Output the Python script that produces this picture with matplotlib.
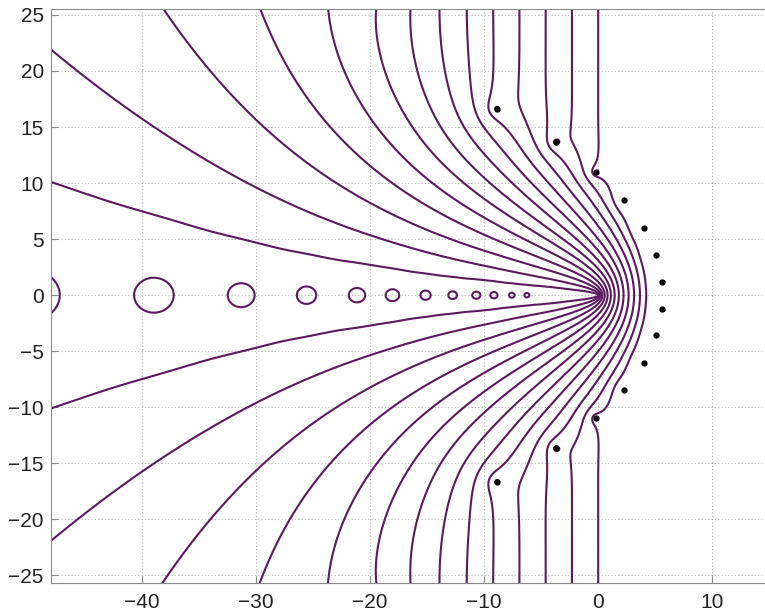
import numpy as np
import matplotlib.pyplot as plt

# type (14,14) rational Chebyshev approximation of exp on (-inf, 0]
# r(z) = alpha0 + sum over conjugate pairs of alpha_k / (-z - theta_k)
alpha0 = '0.183216998528140087e-13'
alpha_re = ['0.557503973136501826e+02', '-0.938666838877006739e+02', '0.469965415550370835e+02',
            '-0.961424200626061065e+01', '0.752722063978321642e+00', '-0.188781253158648576e-01',
            '0.143086431411801849e-03']
alpha_im = ['-0.204295038779771857e+03', '0.912874896775456363e+02', '-0.116167609985818103e+02',
            '-0.264195613880262669e+01', '0.670367365566377770e+00', '-0.343696176445802414e-01',
            '0.287221133228814096e-03']
theta_re = ['-0.562314417475317895e+01', '-0.508934679728216110e+01', '-0.399337136365302569e+01',
            '-0.226978543095856366e+01', '0.208756929753827868e+00', '0.370327340957595652e+01',
            '0.889777151877331107e+01']
theta_im = ['0.119406921611247440e+01', '0.358882439228376881e+01', '0.600483209099604664e+01',
            '0.846173881758693369e+01', '0.109912615662209418e+02', '0.136563731924991884e+02',
            '0.166309842834712071e+02']
levels = np.arange(-13, 1)   # log10 of |exp(z) - r(z)|
loop_level = -14             # small loops around the zeros on the negative axis
loop_xmax = -5.7             # the loops right of this are too small to show

ld = np.longdouble
a0 = ld(alpha0)
alpha = np.array([ld(a) for a in alpha_re]) + 1j * np.array([ld(b) for b in alpha_im])
theta = np.array([ld(a) for a in theta_re]) + 1j * np.array([ld(b) for b in theta_im])


def r(z, c0, al):
    out = np.full(z.shape, c0, dtype=np.clongdouble)
    for a, t in zip(al, theta):
        out += 0.5 * (a / (-z - t) + np.conj(a) / (-z - np.conj(t)))
    return out


# polish the residues on the negative real axis (Lawson iteration, poles fixed)
xr = np.concatenate([-np.logspace(-4, 4, 6000)[::-1], [0.0]]).astype(np.longdouble)
zr = xr.astype(np.clongdouble)
cols = [np.ones(len(xr))]
for t in theta:
    u = (1.0 / (-zr - t)).astype(complex)
    cols += [u.real, -u.imag]
A = np.column_stack(cols)
res = (np.exp(zr) - r(zr, a0, alpha)).real.astype(float)
w = np.ones(len(xr)) / len(xr)
for _ in range(40):
    sw = np.sqrt(w)
    sol = np.linalg.lstsq(A * sw[:, None], res * sw, rcond=None)[0]
    e = res - A @ sol
    w = w * np.abs(e)
    w /= w.sum()
a0 = a0 + ld(sol[0])
alpha = alpha + sol[1::2].astype(np.longdouble) + 1j * sol[2::2].astype(np.longdouble)

xs = np.linspace(-48, 15, 1400)
ys = np.linspace(-25.8, 25.8, 1200)
X, Y = np.meshgrid(xs, ys)
Z = (X + 1j * Y).astype(np.clongdouble)
err = np.log10(np.abs(np.exp(Z) - r(Z, a0, alpha)).astype(float) + 1e-300)

plt.rcParams['contour.negative_linestyle'] = 'solid'
plt.rcParams['font.family'] = ['Liberation Sans', 'DejaVu Sans']

fig = plt.figure(figsize=(7.65, 6.13), dpi=100)
ax = fig.add_axes([0.0663, 0.0484, 0.9393, 0.9364])
ax.contour(X, Y, err, levels=levels, colors='#5a1a5e', linewidths=1.5)
ax.contour(X, Y, np.where(X < loop_xmax, err, 0.0), levels=[loop_level],
           colors='#5a1a5e', linewidths=1.5)
poles = np.concatenate([-theta, -np.conj(theta)]).astype(complex)
ax.plot(poles.real, poles.imag, 'k.', markersize=7)

ax.set_xlim(-48, 15)
ax.set_ylim(-25.7, 25.5)
ax.set_xticks([-40, -30, -20, -10, 0, 10])
ax.set_yticks(np.arange(-25, 26, 5))
ax.grid(True, linestyle=(0, (1, 2)), color='#b8b8b8', linewidth=0.8)
for s in ax.spines.values():
    s.set_color('#8a8a8a')
ax.tick_params(direction='in', labelsize=15, colors='#8a8a8a', labelcolor='#222222',
               length=5)
ax.tick_params(axis='x', pad=7)
ax.tick_params(axis='y', pad=5)
fig.savefig('out.png', dpi=100)
